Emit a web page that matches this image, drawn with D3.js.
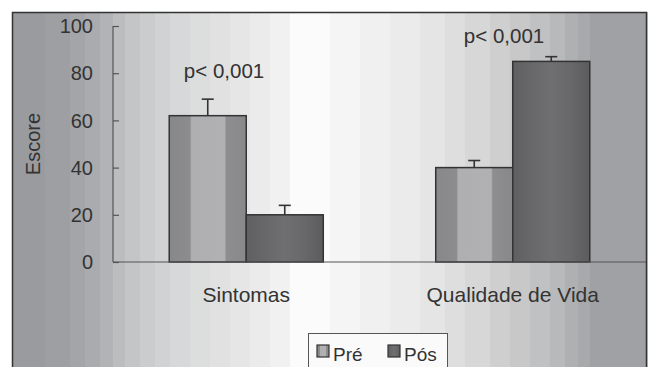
<!DOCTYPE html>
<html><head><meta charset="utf-8">
<script src="https://cdn.jsdelivr.net/npm/d3@7"></script>
<style>html,body{margin:0;padding:0;background:#fff;}svg{display:block;}</style>
</head><body>
<svg id="c" width="648" height="367"></svg>
<script>
const categories = ["Sintomas", "Qualidade de Vida"];
const seriesNames = ["Pré", "Pós"];
const preValues = [62, 40];
const posValues = [20, 85];
const preErrors = [7, 3];
const posErrors = [4, 2];
const pLabels = ["p< 0,001", "p< 0,001"];
const yTicks = [0, 20, 40, 60, 80, 100];

const svg = d3.select("#c");
const plotL = 113, plotR = 646, plotT = 26, plotB = 262;
const font = "'Liberation Sans', Arial, sans-serif";
const textColor = "#333";

// background bands [start x, colour]
const bands = [
  [12, "#9a9b9f"], [45, "#9e9fa3"], [70, "#a4a5a8"], [85, "#aaabae"], [100, "#b2b3b5"],
  [113, "#bcbdbf"], [125, "#c4c5c7"], [140, "#cbcccd"], [155, "#d1d2d3"], [170, "#d7d8d9"],
  [190, "#dcdddd"], [210, "#e1e1e2"], [230, "#e6e6e6"], [250, "#ebebeb"], [270, "#f1f1f1"],
  [290, "#fbfbfb"], [330, "#f5f5f5"], [360, "#f0f0f0"], [390, "#ebebeb"], [420, "#e5e5e5"],
  [445, "#dedede"], [465, "#d7d7d8"], [490, "#cfcfd0"], [510, "#c8c8c9"], [530, "#c0c1c2"],
  [550, "#b8b9bb"], [565, "#afb0b2"], [578, "#a8a9ab"], [590, "#a0a1a4"]
];
const frameR = 647;
svg.append("g").selectAll("rect").data(bands).join("rect")
  .attr("x", d => d[0])
  .attr("y", 12)
  .attr("width", (d, i) => (i < bands.length - 1 ? bands[i + 1][0] : frameR) - d[0] + 0.5)
  .attr("height", 360)
  .attr("fill", d => d[1]);

const defs = svg.append("defs");
function barGrad(id, stops) {
  const g = defs.append("linearGradient").attr("id", id).attr("x1", 0).attr("x2", 1).attr("y1", 0).attr("y2", 0);
  stops.forEach(s => g.append("stop").attr("offset", s[0]).attr("stop-color", s[1]));
}
barGrad("gPre", [[0, "#88888b"], [0.27, "#8c8c8f"], [0.29, "#afafb2"], [0.72, "#b1b1b3"], [0.74, "#8e8e91"], [1, "#88888b"]]);
barGrad("gPos", [[0, "#5f5f62"], [0.25, "#68686b"], [0.5, "#6f6f72"], [0.75, "#68686b"], [1, "#5c5c5f"]]);
const fills = ["url(#gPre)", "url(#gPos)"];

const x0 = d3.scaleBand().domain(categories).range([plotL, plotR]);
const x1 = d3.scaleBand().domain(seriesNames).range([0, x0.bandwidth()]).paddingInner(0).paddingOuter(0.73);
const y = d3.scaleLinear().domain([0, 100]).range([plotB, plotT]);

const rows = categories.map((c, i) => [
  {cat: c, s: seriesNames[0], v: preValues[i], e: preErrors[i], f: fills[0]},
  {cat: c, s: seriesNames[1], v: posValues[i], e: posErrors[i], f: fills[1]}
]).flat();

// error bars
const eb = svg.append("g").attr("stroke", "#333").attr("stroke-width", 1.6);
rows.forEach(d => {
  const cx = x0(d.cat) + x1(d.s) + x1.bandwidth() / 2;
  eb.append("line").attr("x1", cx).attr("x2", cx).attr("y1", y(d.v)).attr("y2", y(d.v + d.e));
  eb.append("line").attr("x1", cx - 6).attr("x2", cx + 6).attr("y1", y(d.v + d.e)).attr("y2", y(d.v + d.e));
});

svg.append("g").selectAll("rect").data(rows).join("rect")
  .attr("x", d => x0(d.cat) + x1(d.s))
  .attr("y", d => y(d.v))
  .attr("width", x1.bandwidth())
  .attr("height", d => y(0) - y(d.v))
  .attr("fill", d => d.f)
  .attr("stroke", "#333").attr("stroke-width", 1.5);

// y axis
const yAxis = d3.axisRight(y).tickValues(yTicks).tickSize(6).tickFormat("");
const ga = svg.append("g").attr("transform", `translate(${plotL},0)`).call(yAxis);
ga.select(".domain").attr("stroke", "#555").attr("stroke-width", 1.2).attr("d", `M0,${plotT}V${plotB}`);
ga.selectAll(".tick line").attr("stroke", "#555").attr("stroke-width", 1.2);

svg.append("g").selectAll("text").data(yTicks).join("text")
  .attr("x", 93).attr("y", d => y(d)).attr("dy", "0.36em")
  .attr("text-anchor", "end").attr("font-family", font).attr("font-size", 20).attr("fill", textColor)
  .text(d => d);

// x baseline
svg.append("line").attr("x1", plotL).attr("x2", plotR).attr("y1", plotB).attr("y2", plotB)
  .attr("stroke", "#555").attr("stroke-width", 1.2);

// category labels
svg.append("g").selectAll("text").data(categories).join("text")
  .attr("x", d => x0(d) + x0.bandwidth() / 2).attr("y", 302)
  .attr("text-anchor", "middle").attr("font-family", font).attr("font-size", 21).attr("fill", textColor)
  .text(d => d);

// p labels
const pPos = [[224, 78], [504, 43]];
svg.append("g").selectAll("text").data(pLabels).join("text")
  .attr("x", (d, i) => pPos[i][0]).attr("y", (d, i) => pPos[i][1])
  .attr("text-anchor", "middle").attr("font-family", font).attr("font-size", 20.5).attr("fill", textColor)
  .text(d => d);

// y title
svg.append("text").attr("transform", `translate(40,${(plotT + plotB) / 2}) rotate(-90)`)
  .attr("text-anchor", "middle").attr("font-family", font).attr("font-size", 20).attr("fill", textColor)
  .text("Escore");

// legend
const lg = svg.append("g");
lg.append("rect").attr("x", 308.5).attr("y", 333.5).attr("width", 139).attr("height", 40)
  .attr("fill", "#fafafa").attr("stroke", "#555").attr("stroke-width", 1);
const legX = [317, 388];
seriesNames.forEach((s, i) => {
  lg.append("rect").attr("x", legX[i]).attr("y", 345).attr("width", 12).attr("height", 12)
    .attr("fill", fills[i]).attr("stroke", "#333").attr("stroke-width", 1.2);
  lg.append("text").attr("x", legX[i] + 16).attr("y", 361).attr("font-family", font)
    .attr("font-size", 19).attr("fill", textColor).text(s);
});

// frame
svg.append("path").attr("d", "M12.5,367V12.5H646.5V367").attr("fill", "none")
  .attr("stroke", "#333").attr("stroke-width", 1.5);
</script>
</body></html>
